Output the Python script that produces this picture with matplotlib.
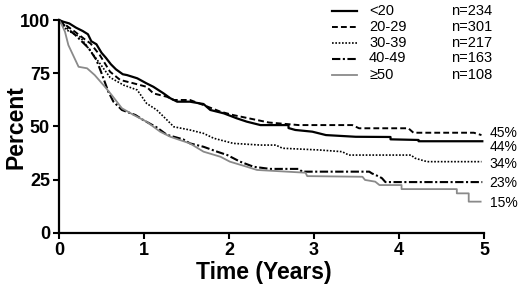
import matplotlib
matplotlib.use('Agg')
import matplotlib.pyplot as plt
from matplotlib.lines import Line2D

plt.rcParams['font.family'] = ['Liberation Sans', 'DejaVu Sans']

# Kaplan-Meier curves (time in years, percent)
groups = ['<20', '20-29', '30-39', '40-49', '\u226550']
counts = ['n=234', 'n=301', 'n=217', 'n=163', 'n=108']
end_labels = ['45%', '44%', '34%', '23%', '15%']

t_lt20 = [0, 0.05, 0.12, 0.2, 0.28, 0.34, 0.38, 0.44, 0.5, 0.55, 0.61, 0.67, 0.75, 0.8, 0.92,
          1.03, 1.11, 1.23, 1.31, 1.39, 1.54, 1.7, 1.78, 1.94, 2.09, 2.21, 2.37, 2.7, 2.7,
          2.78, 2.98, 3.14, 3.49, 3.9, 3.9, 4.23, 4.23, 4.98]
v_lt20 = [100, 99.2, 98.4, 96.4, 94.8, 93.3, 90, 88.6, 84.6, 82.3, 79.2, 76.8, 74.5, 74.1, 72.6,
          70.2, 68.6, 65.5, 63.2, 61.6, 61.6, 60.5, 57.7, 56.1, 53.8, 52.2, 50.6, 50.6, 49.2,
          48.3, 47.5, 45.9, 45.1, 45.0, 43.9, 43.6, 43.0, 43.0]

t_20s = [0, 0.1, 0.17, 0.3, 0.37, 0.48, 0.6, 0.72, 0.88, 1.03, 1.11, 1.27, 1.35, 1.54, 1.7,
         1.9, 2.05, 2.29, 2.47, 2.82, 3.45, 3.53, 4.11, 4.17, 4.88, 4.97]
v_20s = [100, 97, 95, 91, 89, 83.5, 75.7, 71.8, 70.2, 68.6, 65.5, 63.9, 62.4, 62.4, 60,
         56.9, 55.3, 53.3, 51.8, 50.6, 50.6, 49.1, 49.1, 47, 47, 45.9]

t_30s = [0, 0.09, 0.25, 0.36, 0.48, 0.6, 0.76, 0.92, 1.03, 1.15, 1.27, 1.35, 1.54, 1.7, 1.82,
         2.05, 2.37, 2.55, 2.63, 3.06, 3.33, 3.41, 4.14, 4.19, 4.33, 4.97]
v_30s = [100, 95.3, 92, 85.9, 79.6, 73, 69.4, 67.1, 60.8, 57.7, 53, 49.8, 48.3, 46.7, 44.4,
         42, 41.2, 41.2, 39.7, 38.9, 38.1, 36.5, 36.5, 35, 33.4, 33.4]

t_40s = [0, 0.1, 0.19, 0.35, 0.44, 0.5, 0.58, 0.64, 0.74, 0.9, 0.99, 1.15, 1.27, 1.46, 1.54,
         1.7, 1.86, 1.98, 2.13, 2.29, 2.48, 2.82, 2.86, 3.65, 3.68, 3.77, 3.8, 3.84, 4.98]
v_40s = [100, 96, 93, 86.7, 81.2, 75, 66.3, 61.6, 57.7, 55.3, 53, 49.5, 46, 43.9, 42,
         40.4, 38.1, 36.5, 33.4, 31, 30, 30, 28.7, 28.7, 27.9, 26.3, 25.6, 23.8, 23.8]

t_50 = [0, 0.03, 0.07, 0.11, 0.23, 0.33, 0.42, 0.54, 0.62, 0.74, 0.88, 1.03, 1.19, 1.31, 1.42,
        1.54, 1.7, 1.9, 2.01, 2.21, 2.33, 2.9, 2.92, 3.57, 3.6, 3.72, 3.77, 4.03, 4.03, 4.68,
        4.68, 4.82, 4.82, 4.96]
v_50 = [100, 98, 94.5, 88.2, 78, 77.3, 74.1, 68.6, 64.7, 58.5, 55.3, 52.2, 47.5, 45.1, 43.6,
        42, 38.1, 35.7, 33.4, 31, 29.5, 28.2, 26.6, 26.3, 24.8, 24, 22.4, 22.4, 20.5, 20.5,
        18.5, 18.5, 14.6, 14.6]

times = [t_lt20, t_20s, t_30s, t_40s, t_50]
values = [v_lt20, v_20s, v_30s, v_40s, v_50]

styles = [dict(color='black', lw=1.6, linestyle='-'),
          dict(color='black', lw=1.4, linestyle=(0, (3, 1.6))),
          dict(color='black', lw=1.2, linestyle=(0, (1, 1))),
          dict(color='black', lw=1.5, linestyle=(0, (4, 1.2, 1, 1.2))),
          dict(color='#8a8a8a', lw=1.3, linestyle='-')]

fig = plt.figure(figsize=(5.2, 2.85), dpi=100)
ax = fig.add_axes([0.1135, 0.1835, 0.8173, 0.7463])

for t, v, st in zip(times, values, styles):
    ax.plot(t, v, clip_on=False, **st)

ax.set_xlim(0, 5)
ax.set_ylim(0, 100)
ax.set_xticks([0, 1, 2, 3, 4, 5])
ax.set_yticks([0, 25, 50, 75, 100])
for s in ['top', 'right']:
    ax.spines[s].set_visible(False)
for s in ['left', 'bottom']:
    ax.spines[s].set_linewidth(1.6)
ax.tick_params(direction='out', length=4, width=1.5, labelsize=13, pad=2.5)
for lab in ax.get_xticklabels() + ax.get_yticklabels():
    lab.set_fontweight('bold')

fig.text(16 / 520, 0.553, 'Percent', rotation=90, ha='center', va='center',
         fontsize=16.5, fontweight='bold')
fig.text(264 / 520, 1 - 278.5 / 285, 'Time (Years)', ha='center', va='baseline',
         fontsize=16.5, fontweight='bold')

# end-of-curve percentages
label_y = [47.0, 40.4, 32.4, 23.4, 14.0]
for txt, y in zip(end_labels, label_y):
    ax.text(5.065, y, txt, ha='left', va='center', fontsize=10, clip_on=False)

# legend drawn by hand (two text columns)
row_px = [10.7, 26.7, 42.7, 58.5, 75]
for g, n, st, y in zip(groups, counts, styles, row_px):
    yf = 1 - y / 285
    fig.add_artist(Line2D([331.5 / 520, 357 / 520], [yf, yf], transform=fig.transFigure, **st))
    fig.text(369 / 520, yf, g, ha='left', va='center', fontsize=10.5)
    fig.text(451.5 / 520, yf, n, ha='left', va='center', fontsize=10.5)

fig.savefig('out.png', dpi=100)
